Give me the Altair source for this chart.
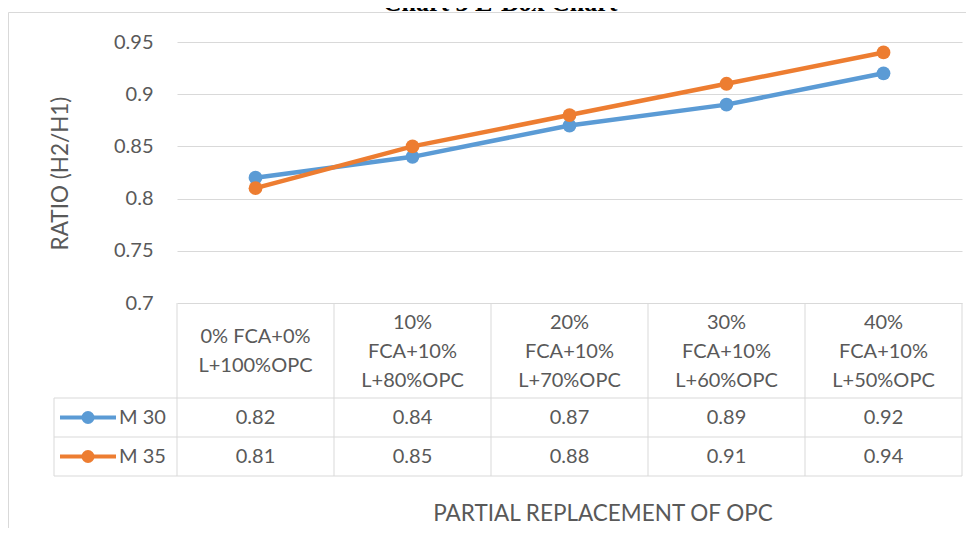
import altair as alt
import pandas as pd

# ---------------- data ----------------
categories = [
    "0% FCA+0%\nL+100%OPC",
    "10%\nFCA+10%\nL+80%OPC",
    "20%\nFCA+10%\nL+70%OPC",
    "30%\nFCA+10%\nL+60%OPC",
    "40%\nFCA+10%\nL+50%OPC",
]
series_names = ["M 30", "M 35"]
m30 = [0.82, 0.84, 0.87, 0.89, 0.92]
m35 = [0.81, 0.85, 0.88, 0.91, 0.94]
y_ticks = [0.7, 0.75, 0.8, 0.85, 0.9, 0.95]
colors = ["#5B9BD5", "#ED7D31"]
title_text = "Chart 3 L-Box Chart"
y_title = "RATIO (H2/H1)"
x_title = "PARTIAL REPLACEMENT OF OPC"

# ---------------- layout / style ----------------
W, H = 785, 261
STEP = W / len(categories)
FONT = "Lato"
TXT = "#595959"
GRID = "#d9d9d9"
FS = 20
LH = 29
row_y = [375.5, 414.5]
row_lines = [356, 395, 434]
header_y = 309.5
table_left = -123

long = pd.DataFrame({
    "cat": categories * 2,
    "series": [s for s in series_names for _ in categories],
    "value": m30 + m35,
})

xenc = alt.X("cat:N", sort=categories,
             scale=alt.Scale(type="point", domain=categories, padding=0.5),
             axis=None)
yscale = alt.Scale(domain=[0.7, 0.95], nice=False, zero=False)
yaxis = alt.Axis(values=y_ticks, format=".2~f", title=y_title,
                 grid=True, gridColor=GRID, gridWidth=1,
                 domain=False, ticks=False,
                 labelFont=FONT, labelFontSize=FS, labelColor=TXT,
                 labelPadding=24,
                 titleFont=FONT, titleFontSize=22.5, titleColor=TXT,
                 titleFontWeight="normal", titleX=-117, titleY=131,
                 titleAngle=270, titleAlign="center",
                 titleBaseline="middle")
cscale = alt.Scale(domain=series_names, range=colors)

base = alt.Chart(long)

lines = base.mark_line(strokeWidth=4.5).encode(
    x=xenc,
    y=alt.Y("value:Q", scale=yscale, axis=yaxis, title=y_title),
    color=alt.Color("series:N", scale=cscale, legend=None),
)

points = base.mark_circle(size=190, opacity=1).encode(
    x=xenc,
    y=alt.Y("value:Q", scale=yscale, axis=yaxis, title=y_title),
    color=alt.Color("series:N", scale=cscale, legend=None),
)

cat_df = pd.DataFrame({"cat": categories})
cat_df["n"] = [c.count("\n") + 1 for c in categories]

layers = [lines, points]

# header cells (multi-line category labels), block centred in the header row
for n in sorted(cat_df["n"].unique()):
    layers.append(alt.Chart(cat_df[cat_df["n"] == n]).mark_text(
        font=FONT, fontSize=FS, color=TXT, lineBreak="\n", lineHeight=LH,
        align="center", baseline="middle",
    ).encode(x=xenc, y=alt.value(header_y - (n - 1) * LH / 2), text="cat:N"))

# table borders
for ly in row_lines:
    layers.append(alt.Chart(cat_df.head(1)).mark_rule(color=GRID, strokeWidth=1).encode(
        x=alt.value(table_left), x2=alt.value(W), y=alt.value(ly)))
layers.append(alt.Chart(cat_df).mark_rule(color=GRID, strokeWidth=1, xOffset=-STEP / 2).encode(
    x=xenc, y=alt.value(H), y2=alt.value(row_lines[-1])))
layers.append(alt.Chart(cat_df.tail(1)).mark_rule(color=GRID, strokeWidth=1, xOffset=STEP / 2).encode(
    x=xenc, y=alt.value(H), y2=alt.value(row_lines[-1])))
layers.append(alt.Chart(cat_df.head(1)).mark_rule(color=GRID, strokeWidth=1).encode(
    x=alt.value(table_left), y=alt.value(row_lines[0]), y2=alt.value(row_lines[-1])))

# table rows
for i, s in enumerate(series_names):
    sdf = long[long["series"] == s]
    layers.append(alt.Chart(sdf).mark_text(
        font=FONT, fontSize=FS, color=TXT, align="center", baseline="middle").encode(
        x=xenc, y=alt.value(row_y[i]), text=alt.Text("value:Q", format=".2f")))
    one = pd.DataFrame({"series": [s]})
    layers.append(alt.Chart(one).mark_rule(strokeWidth=4, color=colors[i]).encode(
        x=alt.value(-117), x2=alt.value(-61), y=alt.value(row_y[i])))
    layers.append(alt.Chart(one).mark_circle(size=169, opacity=1, color=colors[i]).encode(
        x=alt.value(-89), y=alt.value(row_y[i])))
    layers.append(alt.Chart(one).mark_text(
        font=FONT, fontSize=FS, color=TXT, align="left", baseline="middle").encode(
        x=alt.value(-58), y=alt.value(row_y[i]), text="series:N"))

# axis title (x)
layers.append(alt.Chart(pd.DataFrame({"t": [x_title]})).mark_text(
    font=FONT, fontSize=22.5, color=TXT, align="center", baseline="middle").encode(
    x=alt.value(426), y=alt.value(472), text="t:N"))

# chart-area border
layers.append(alt.Chart(cat_df.head(1)).mark_rule(color=GRID, strokeWidth=1).encode(
    x=alt.value(-168.5), x2=alt.value(820), y=alt.value(-29.5)))
layers.append(alt.Chart(cat_df.head(1)).mark_rule(color=GRID, strokeWidth=1).encode(
    x=alt.value(-168.5), y=alt.value(-29.5), y2=alt.value(500)))

# title (mostly cut off at the top, as in the source)
layers.append(alt.Chart(pd.DataFrame({"t": [title_text]})).mark_text(
    font="Liberation Serif", fontWeight="bold", fontSize=26, color="#000000",
    align="center", baseline="alphabetic").encode(
    x=alt.value(323), y=alt.value(-31), text="t:N"))

chart = alt.layer(*layers).properties(
    width=W, height=H,
    autosize=alt.AutoSizeParams(type="none"),
    padding={"left": 169, "top": 34, "right": 4, "bottom": 225},
    background="white",
).configure_view(stroke=None)

chart.save("out.html", embed_options={"renderer": "svg", "actions": False})
